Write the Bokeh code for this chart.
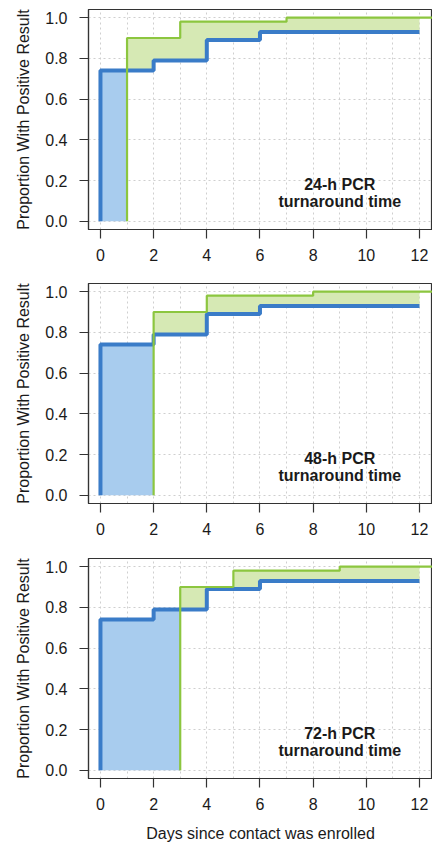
from bokeh.plotting import figure
from bokeh.layouts import column
from bokeh.models import Range1d, FixedTicker
from bokeh.embed import file_html
from bokeh.resources import INLINE
from bokeh.core.properties import value

# ---- data ----
blue_days = [0, 2, 4, 6]            # days where the blue curve steps up
blue_vals = [0.74, 0.79, 0.89, 0.93]
blue_end_day = 12

green_days_base = [0, 2, 6]         # green curve step days before turnaround delay
green_vals = [0.90, 0.98, 1.00]

turnaround_days = [1, 2, 3]
panel_labels = ["24-h PCR\nturnaround time",
                "48-h PCR\nturnaround time",
                "72-h PCR\nturnaround time"]

x_ticks = [0, 2, 4, 6, 8, 10, 12]
x_grid = list(range(0, 13))
y_ticks = [0.0, 0.2, 0.4, 0.6, 0.8, 1.0]
y_tick_labels = ["0.0", "0.2", "0.4", "0.6", "0.8", "1.0"]
x_title = "Days since contact was enrolled"
y_title = "Proportion With Positive Result"

# ---- styles ----
FONT = "Liberation Sans"
BLUE_LINE = "#3a7cc8"
BLUE_FILL = "#a8ccee"
GREEN_LINE = "#8cc63f"
GREEN_FILL = "#d6e9b4"
FRAME = "#333333"
TEXT = "#1a1a1a"
X_START, X_END = -0.45, 12.49
Y_START, Y_END = -0.04, 1.04


def step_at(days, vals, x):
    v = 0.0
    for d, val in zip(days, vals):
        if d <= x:
            v = val
    return v


def make_panel(shift, label, top, bottom, height, show_xtitle):
    g_days = [d + shift for d in green_days_base]
    p = figure(width=432, height=height, output_backend="svg",
               toolbar_location=None,
               x_range=Range1d(X_START, X_END), y_range=Range1d(Y_START, Y_END),
               min_border_left=88, min_border_right=0,
               min_border_top=top, min_border_bottom=bottom)
    p.background_fill_color = "white"
    p.border_fill_color = "white"
    p.outline_line_color = FRAME
    p.outline_line_width = 1.2

    # grids
    p.xgrid.ticker = FixedTicker(ticks=x_grid)
    p.ygrid.ticker = FixedTicker(ticks=y_ticks)
    for g in (p.xgrid, p.ygrid):
        g.grid_line_color = "#cfcfcf"
        g.grid_line_dash = "2 3"
        g.grid_line_width = 1

    # fills between the curves
    bps = sorted(set([0] + blue_days + g_days + [blue_end_day]))
    bps = [b for b in bps if 0 <= b <= blue_end_day]
    bx, by1, by2, gx, gy1, gy2 = [], [], [], [], [], []
    for a, b in zip(bps[:-1], bps[1:]):
        bv = step_at(blue_days, blue_vals, a)
        gv = step_at(g_days, green_vals, a)
        lo_b, hi_b = (gv, bv) if bv > gv else (bv, bv)
        lo_g, hi_g = (bv, gv) if gv > bv else (gv, gv)
        bx += [a, b]; by1 += [lo_b, lo_b]; by2 += [hi_b, hi_b]
        gx += [a, b]; gy1 += [lo_g, lo_g]; gy2 += [hi_g, hi_g]
    p.varea(x=bx, y1=by1, y2=by2, fill_color=BLUE_FILL)
    p.varea(x=gx, y1=gy1, y2=gy2, fill_color=GREEN_FILL)

    # step curves
    p.step(x=[0] + blue_days + [blue_end_day],
           y=[0] + blue_vals + [blue_vals[-1]],
           mode="after", line_color=BLUE_LINE, line_width=4)
    p.step(x=[shift] + g_days + [X_END + 0.5],
           y=[0] + green_vals + [green_vals[-1]],
           mode="after", line_color=GREEN_LINE, line_width=2.2)

    p.text(x=[9], y=[0.14], text=[label], text_align="center",
           text_baseline="middle", text_font=value(FONT),
           text_font_style="bold", text_font_size="16px",
           text_color=TEXT, text_line_height=1.0)

    # axes
    p.xaxis.ticker = FixedTicker(ticks=x_ticks)
    p.yaxis.ticker = FixedTicker(ticks=y_ticks)
    p.yaxis.major_label_overrides = {t: l for t, l in zip(y_ticks, y_tick_labels)}
    for ax in (p.xaxis[0], p.yaxis[0]):
        ax.axis_line_color = FRAME
        ax.axis_line_width = 1.2
        ax.major_tick_line_color = FRAME
        ax.major_tick_line_width = 1.2
        ax.major_tick_in = 0
        ax.major_tick_out = 9
        ax.minor_tick_line_color = None
        ax.major_label_text_font = FONT
        ax.major_label_text_font_size = "16px"
        ax.major_label_text_color = TEXT
        ax.axis_label_text_font = FONT
        ax.axis_label_text_font_size = "16px"
        ax.axis_label_text_font_style = "normal"
        ax.axis_label_text_color = TEXT
    p.yaxis.axis_label = y_title
    p.yaxis.major_label_standoff = 12
    p.yaxis.axis_label_standoff = 10
    p.xaxis.major_label_standoff = 10
    if show_xtitle:
        p.xaxis.axis_label = x_title
        p.xaxis.axis_label_standoff = 12
    return p


p1 = make_panel(turnaround_days[0], panel_labels[0], 9, 54, 283, False)
p2 = make_panel(turnaround_days[1], panel_labels[1], 0, 55, 275, False)
p3 = make_panel(turnaround_days[2], panel_labels[2], 0, 66, 286, True)

layout = column(p1, p2, p3, spacing=0)
open("out.html", "w").write(file_html(layout, INLINE))
